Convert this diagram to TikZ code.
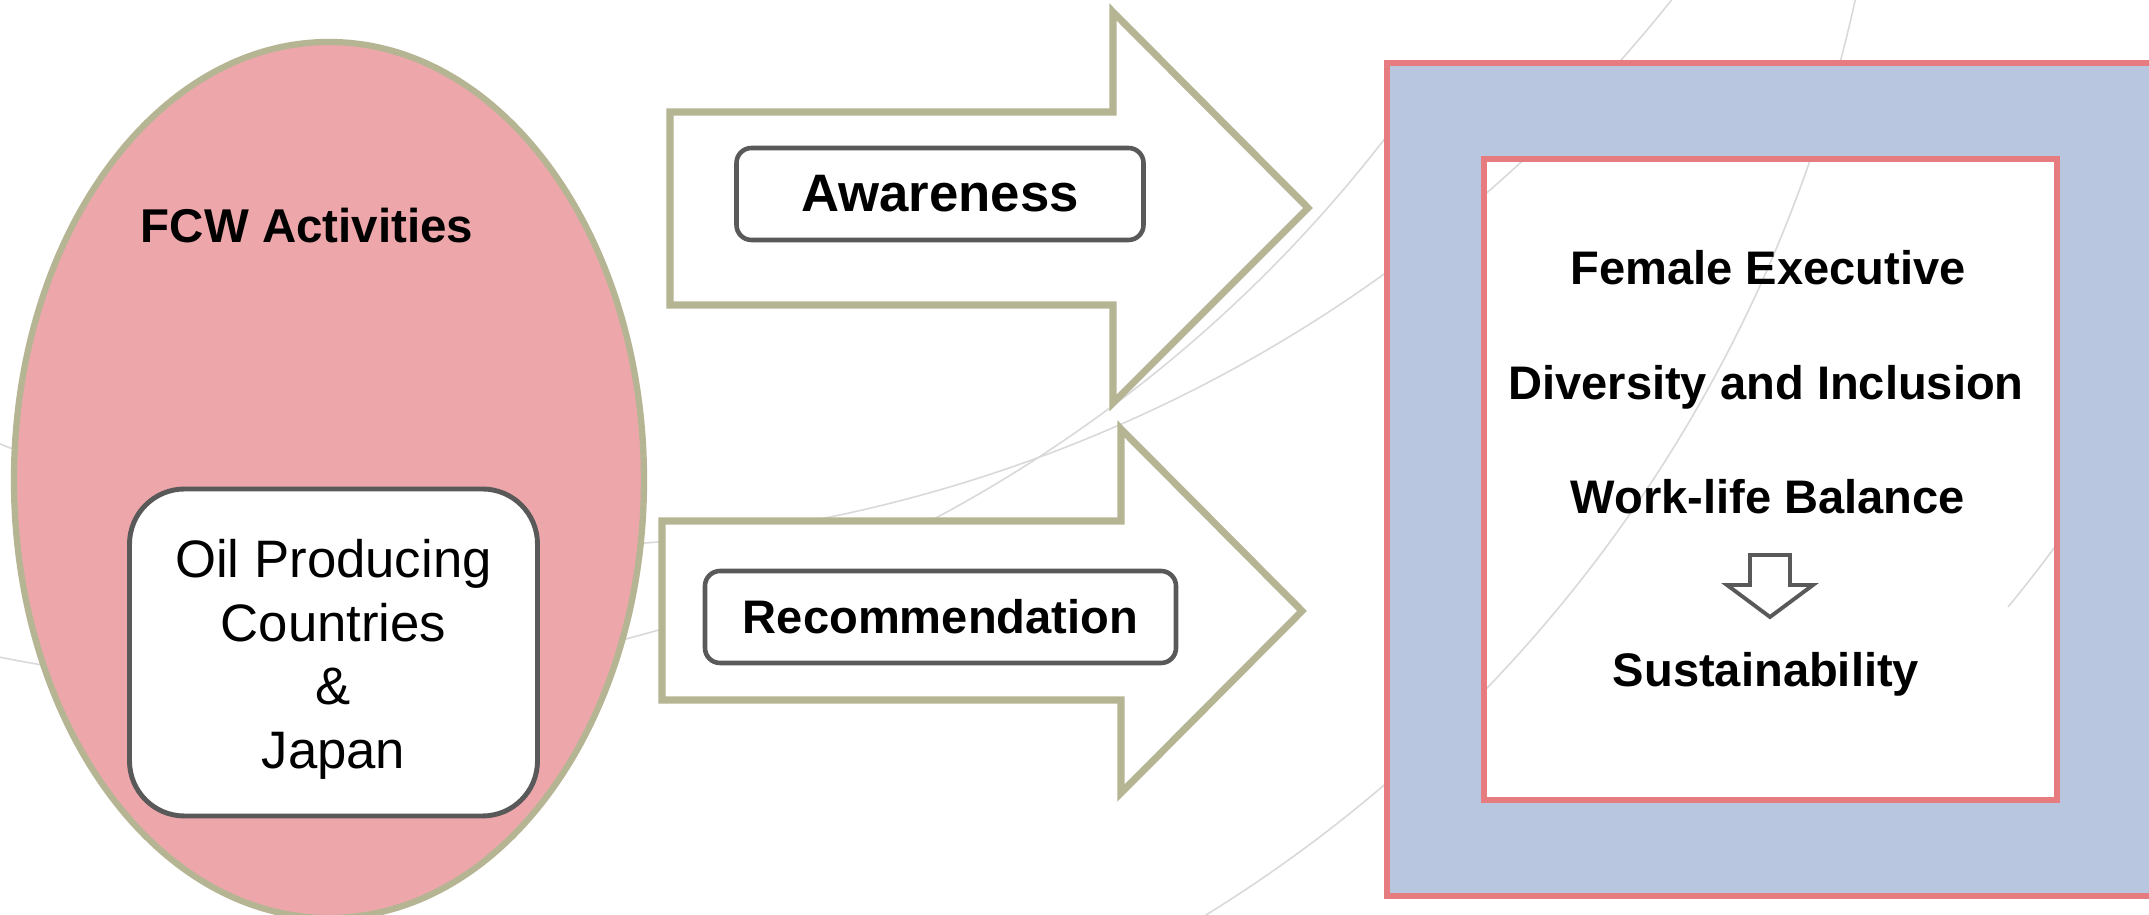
\documentclass[tikz,border=0pt]{standalone}
\usepackage{fontspec}
\setmainfont{Liberation Sans}

\definecolor{EllipseColor}{RGB}{237,167,171}
\definecolor{OliveColor}{RGB}{181,181,148}
\definecolor{BoxColor}{RGB}{89,89,89}
\definecolor{FrameColor}{RGB}{185,198,224}
\definecolor{BorderColor}{RGB}{230,124,128}
\definecolor{ArcColor}{RGB}{217,217,217}

\begin{document}
\begin{tikzpicture}[
	labelbox/.style={draw=BoxColor, line width=1.3pt, fill=white, rounded corners=0.15cm, minimum height=0.92cm},
	goal/.style={anchor=base, font=\fontsize{13.4}{16}\selectfont\bfseries}]
	\useasboundingbox (0,0) rectangle (21.49,9.15);
	\clip (0,0) rectangle (21.49,9.15);
	\fill [white] (0,0) rectangle (21.49,9.15);
	% background swooshes
	\draw [ArcColor, line width=0.45pt] (5.37,18.18) ++(245:14.5) arc [start angle=245, end angle=323, radius=14.5];
	\draw [ArcColor, line width=0.45pt] (2.73,16.37) ++(255:14.06) arc [start angle=255, end angle=324, radius=14.06];
	\draw [ArcColor, line width=0.45pt] (4.49,12.25) ++(299:14.4) arc [start angle=299, end angle=349, radius=14.4];
	\draw [ArcColor, line width=0.45pt] (8.97,12.24) ++(320.5:14.4) arc [start angle=320.5, end angle=324.5, radius=14.4];
	% left side
	\filldraw [fill=EllipseColor, draw=OliveColor, line width=1.8pt] (3.29,4.35) ellipse [x radius=3.15, y radius=4.38];
	\node (fcw) [anchor=base, font=\fontsize{13.5}{16}\selectfont\bfseries] at (3.07,6.72) {FCW Activities};
	\node (oil) [draw=BoxColor, line width=1.4pt, fill=white, rounded corners=0.55cm, minimum width=4.08cm, minimum height=3.27cm] at (3.335,2.625) {};
	\node (oiltext) [align=center, font=\fontsize{15}{18.07}\selectfont] at ([yshift=-0.07cm]oil.center) {Oil Producing\\Countries\\\&\\Japan};
	% arrows
	\filldraw [fill=white, draw=OliveColor, line width=2pt] (6.70,8.03) -- (11.13,8.03) -- (11.13,9.03) -- (13.08,7.07) -- (11.13,5.12) -- (11.13,6.10) -- (6.70,6.10) -- cycle;
	\filldraw [fill=white, draw=OliveColor, line width=2pt] (6.62,3.94) -- (11.21,3.94) -- (11.21,4.86) -- (13.02,3.04) -- (11.21,1.22) -- (11.21,2.15) -- (6.62,2.15) -- cycle;
	\node (awareness) [labelbox, minimum width=4.07cm, font=\fontsize{15}{18}\selectfont\bfseries] at (9.40,7.21) {Awareness};
	\node (recommendation) [labelbox, minimum width=4.71cm, font=\fontsize{13.4}{16}\selectfont\bfseries] at (9.405,2.98) {Recommendation};
	% right side
	\filldraw [fill=FrameColor, draw=BorderColor, line width=1.5pt, even odd rule] (13.87,0.19) rectangle (22.2,8.52) (14.84,1.15) rectangle (20.57,7.56);
	\node (female) [goal] at (17.68,6.30) {Female Executive};
	\node (diversity) [goal] at (17.66,5.15) {Diversity and Inclusion};
	\node (worklife) [goal] at (17.68,4.01) {Work-life Balance};
	\node (sustain) [goal] at (17.66,2.28) {Sustainability};
	\filldraw [fill=white, draw=BoxColor, line width=1.1pt] (17.50,3.60) -- (17.90,3.60) -- (17.90,3.30) -- (18.13,3.30) -- (17.70,2.98) -- (17.27,3.30) -- (17.50,3.30) -- cycle;
\end{tikzpicture}
\end{document}
